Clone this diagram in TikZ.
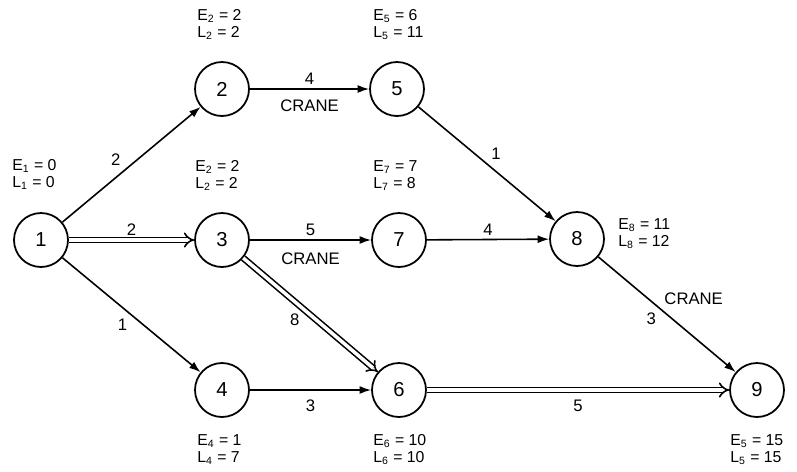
\documentclass[tikz,border=0pt]{standalone}
\usepackage{fontspec}
\setmainfont{Liberation Sans}
\usetikzlibrary{arrows.meta}
\tikzset{event/.style={draw, circle, line width=1pt, minimum size=1.08cm, inner sep=0pt, font=\fontsize{11.5}{13}\selectfont}}
\tikzset{act/.style={line width=0.9pt, -{Latex[length=6.5pt,width=4.5pt]}}}
\tikzset{crit/.style={line width=0.9pt, double, double distance=2pt, -{Implies}}}
\tikzset{times/.style={anchor=north west, align=left, inner sep=0pt, font=\fontsize{9}{9.8}\selectfont}}
\tikzset{lbl/.style={font=\fontsize{9.5}{11}\selectfont, inner sep=2pt}}

\begin{document}
\begin{tikzpicture}[x=0.02cm, y=-0.02cm]
    \useasboundingbox (0,0) rectangle (797,471);
    %Events
    \node[event] (n1) at (41,240) {1};
    \node[event] (n2) at (222,89) {2};
    \node[event] (n3) at (222,240) {3};
    \node[event] (n4) at (222,390) {4};
    \node[event] (n5) at (397,89) {5};
    \node[event] (n6) at (399,390) {6};
    \node[event] (n7) at (399,240) {7};
    \node[event] (n8) at (577,239) {8};
    \node[event] (n9) at (757,390) {9};
    %Earliest and latest times
    \node[times] (t1) at (12,159) {E\textsubscript{1} = 0\\L\textsubscript{1} = 0};
    \node[times] (t2) at (197,9) {E\textsubscript{2} = 2\\L\textsubscript{2} = 2};
    \node[times] (t3) at (195,160) {E\textsubscript{2} = 2\\L\textsubscript{2} = 2};
    \node[times] (t5) at (373,9) {E\textsubscript{5} = 6\\L\textsubscript{5} = 11};
    \node[times] (t7) at (373,160) {E\textsubscript{7} = 7\\L\textsubscript{7} = 8};
    \node[times] (t8) at (618,218) {E\textsubscript{8} = 11\\L\textsubscript{8} = 12};
    \node[times] (t4) at (197,434) {E\textsubscript{4} = 1\\L\textsubscript{4} = 7};
    \node[times] (t6) at (373,434) {E\textsubscript{6} = 10\\L\textsubscript{6} = 10};
    \node[times] (t9) at (730,434) {E\textsubscript{5} = 15\\L\textsubscript{5} = 15};
    %Activities
    \draw[act] (n1) -- node[lbl, above left, pos=0.45] (a12) {2} (n2);
    \draw[crit] (n1) -- node[lbl, above] (a13) {2} (n3);
    \draw[act] (n1) -- node[lbl, below left] (a14) {1} (n4);
    \draw[act] (n2) -- node[lbl, above] (a25) {4} node[lbl, below=4pt] (c25) {CRANE} (n5);
    \draw[act] (n3) -- node[lbl, above] (a37) {5} node[lbl, below=5pt] (c37) {CRANE} (n7);
    \draw[crit] (n3) -- node[lbl, below left, pos=0.45] (a36) {8} (n6);
    \draw[act] (n4) -- node[lbl, below=3pt] (a46) {3} (n6);
    \draw[act] (n5) -- node[lbl, above right] (a58) {1} (n8);
    \draw[act] (n7) -- node[lbl, above] (a78) {4} (n8);
    \draw[act] (n8) -- node[lbl, below left, pos=0.45] (a89) {3} node[lbl, above right, pos=0.45] (c89) {CRANE} (n9);
    \draw[crit] (n6) -- node[lbl, below=3pt] (a69) {5} (n9);
\end{tikzpicture}
\end{document}
